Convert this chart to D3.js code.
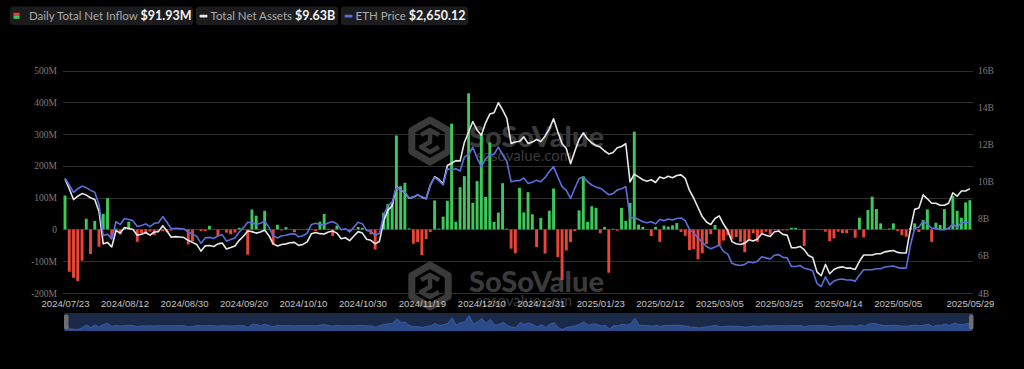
<!DOCTYPE html>
<html>
<head>
<meta charset="utf-8">
<script src="https://cdn.jsdelivr.net/npm/d3@7"></script>
<style>
  body { margin: 0; background: #000; }
  svg { display: block; }
</style>
</head>
<body>
<script>
// trading days shown on the category axis
const tradingDays = [
  ["2024/07", [23, 24, 25, 26, 29, 30, 31]],
  ["2024/08", [1, 2, 5, 6, 7, 8, 9, 12, 13, 14, 15, 16, 19, 20, 21, 22, 23, 26, 27, 28, 29, 30]],
  ["2024/09", [3, 4, 5, 6, 9, 10, 11, 12, 13, 16, 17, 18, 19, 20, 23, 24, 25, 26, 27, 30]],
  ["2024/10", [1, 2, 3, 4, 7, 8, 9, 10, 11, 14, 15, 16, 17, 18, 21, 22, 23, 24, 25, 28, 29, 30, 31]],
  ["2024/11", [1, 4, 5, 6, 7, 8, 11, 12, 13, 14, 15, 18, 19, 20, 21, 22, 25, 26, 27, 29]],
  ["2024/12", [2, 3, 4, 5, 6, 9, 10, 11, 12, 13, 16, 17, 18, 19, 20, 23, 24, 26, 27, 30, 31]],
  ["2025/01", [2, 3, 6, 7, 8, 10, 13, 14, 15, 16, 17, 21, 22, 23, 24, 27, 28, 29, 30, 31]],
  ["2025/02", [3, 4, 5, 6, 7, 10, 11, 12, 13, 14, 18, 19, 20, 21, 24, 25, 26, 27, 28]],
  ["2025/03", [3, 4, 5, 6, 7, 10, 11, 12, 13, 14, 17, 18, 19, 20, 21, 24, 25, 26, 27, 28, 31]],
  ["2025/04", [1, 2, 3, 4, 7, 8, 9, 10, 11, 14, 15, 16, 17, 21, 22, 23, 24, 25, 28, 29, 30]],
  ["2025/05", [1, 2, 5, 6, 7, 8, 9, 12, 13, 14, 15, 16, 19, 20, 21, 22, 23, 27, 28, 29]]
]
const dates = tradingDays.flatMap(([m, days]) => days.map(d => m + "/" + String(d).padStart(2, "0")))

const tickLabels = ["2024/07/23", "2024/08/12", "2024/08/30", "2024/09/20", "2024/10/10", "2024/10/30",
  "2024/11/19", "2024/12/10", "2024/12/31", "2025/01/23", "2025/02/12", "2025/03/05", "2025/03/25",
  "2025/04/14", "2025/05/05", "2025/05/29"]

// daily total net inflow, million USD
const netInflow = [
  106.6, -133.2, -152.3, -162.7, -98.3, 33.7, -77.2, 26.7, -54.3, 48.8,
  98.4, -23.7, 2.7, -15.7, 4.9, 24.3, 1, -39.2, -12, -13.5,
  -6.5, -18, -4, -5.8, -9, -3.5, 0.5, 2, -1.8, -47.4,
  -37.5, -1, -5.2, -5, 11.4, 0.5, -20.1, 1, -10, -15.1,
  -9.8, 5.2, -1, -79.3, 62.5, 43.2, 0.5, 58.7, 1, -48.6,
  14.5, -3.2, 7.4, 1, -8.2, 1, -1, 2, 1, -5,
  24.2, 48.4, 2, -20.8, 11.9, -1.1, -2, -8, -2, 7.6,
  4.9, -3, -16, -63.2, 0.5, 52.3, 79.7, 85.9, 295.5, 135.9,
  146.9, 3.2, -45, -40, -81.2, -30.3, -8, 91.2, 2.8, 40.3,
  90.1, 332.9, 24.2, 132.6, 167.7, 428.4, 83.8, 152, 300, 102.1,
  273.7, 23.7, 53, 145.5, 2.5, -60.5, -75.1, 130.8, 53.6, 117.2,
  47.8, -55.4, 35.9, -76, 58.9, 128.7, -86.8, -159.4, -66, -39.4,
  -5, 59.8, 166.9, 24, 73, 68, -12, 8, -136.2, 2,
  -4, 67.8, 27, 83.5, 307.8, 15, 8, 1, -21, 8,
  -39, 12, 9, 13, 20, -8, -20, -65, -62, -94,
  -75, -46, -15, 14, -50, -35, -18, -30, -24, -39,
  -72, -35, -12, -39, -12, -7, -16, -2, -4, -3,
  -3, 5, 5, 1, -52, 1, -1, 1, -2, -7,
  -37, -28, -7, -12, -12, -2, -26, 37, -25, 61,
  103, 64, 19, 1, 3, 19, -5, -18, -23, 5,
  19, -8, 30, 63, -39, 21, 14, 64, 5, 105,
  58.7, 37, 84.9, 91.93
]

// total net assets, billion USD
const totalNetAssets = [
  10.15, 9.62, 9.04, 9.22, 9.36, 9.28, 9.14, 9.04, 8.40, 6.65,
  6.73, 6.48, 7.37, 7.23, 7.53, 7.48, 7.42, 7.12, 7.17, 7.26,
  7.12, 7.29, 7.31, 7.63, 7.34, 7.01, 7.04, 7.02, 6.99, 6.84,
  6.73, 6.62, 6.26, 6.54, 6.56, 6.51, 6.65, 6.70, 6.37, 6.45,
  6.54, 6.84, 7.06, 7.34, 7.31, 7.23, 7.29, 7.40, 7.09, 6.65,
  6.54, 6.62, 6.65, 6.71, 6.73, 6.57, 6.62, 6.76, 7.20, 7.26,
  7.20, 7.18, 7.29, 7.34, 7.23, 6.93, 6.98, 6.82, 7.07, 7.31,
  7.23, 6.90, 6.84, 6.65, 6.78, 7.87, 8.47, 8.70, 9.74, 9.56,
  9.41, 9.11, 9.17, 9.29, 9.17, 9.08, 9.82, 10.27, 10.12, 9.89,
  10.88, 11.00, 11.14, 11.12, 12.12, 12.68, 13.25, 12.79, 12.51, 13.18,
  13.65, 13.72, 14.26, 13.88, 13.42, 12.07, 12.14, 12.18, 12.42, 12.06,
  12.14, 12.28, 12.17, 12.46, 12.85, 13.40, 12.70, 12.05, 11.79, 10.97,
  11.64, 12.28, 12.63, 12.31, 12.09, 11.95, 11.87, 11.66, 11.50, 11.58,
  11.83, 11.90, 12.05, 9.99, 10.41, 10.26, 10.11, 10.03, 10.11, 9.96,
  10.26, 10.18, 10.30, 10.22, 10.34, 10.37, 10.18, 9.53, 9.11, 8.61,
  8.12, 7.83, 7.69, 8.02, 8.16, 7.72, 7.37, 6.77, 6.66, 6.62,
  6.69, 6.87, 6.80, 6.91, 7.20, 7.12, 7.05, 7.30, 7.34, 7.16,
  7.12, 6.44, 6.44, 6.51, 6.34, 6.02, 5.92, 5.14, 4.93, 5.54,
  5.04, 5.27, 5.37, 5.41, 5.34, 5.34, 5.27, 5.71, 6.05, 6.05,
  6.05, 6.12, 6.12, 6.22, 6.26, 6.29, 6.19, 6.16, 6.16, 7.44,
  8.51, 8.58, 9.29, 9.08, 8.84, 8.84, 8.73, 8.73, 8.84, 9.40,
  9.22, 9.50, 9.50, 9.63
]

// ETH price, USD
const ethPrice = [
  3465, 3340, 3205, 3270, 3320, 3290, 3240, 3205, 2980, 2400,
  2430, 2340, 2660, 2610, 2720, 2700, 2680, 2570, 2590, 2620,
  2570, 2630, 2640, 2755, 2650, 2530, 2540, 2535, 2525, 2470,
  2430, 2390, 2260, 2360, 2370, 2350, 2400, 2420, 2300, 2330,
  2360, 2470, 2550, 2650, 2640, 2610, 2630, 2670, 2560, 2400,
  2360, 2400, 2410, 2430, 2440, 2380, 2400, 2450, 2610, 2630,
  2610, 2600, 2640, 2660, 2620, 2510, 2530, 2470, 2560, 2650,
  2620, 2500, 2480, 2410, 2440, 2780, 2960, 3020, 3300, 3250,
  3200, 3100, 3120, 3160, 3120, 3090, 3340, 3480, 3420, 3340,
  3640, 3620, 3640, 3600, 3860, 3900, 4040, 3840, 3680, 3820,
  3900, 3910, 4040, 3900, 3780, 3400, 3420, 3420, 3470, 3370,
  3390, 3430, 3400, 3480, 3590, 3680, 3490, 3310, 3240, 3090,
  3280, 3460, 3490, 3400, 3340, 3300, 3280, 3220, 3160, 3180,
  3250, 3270, 3310, 2730, 2740, 2700, 2660, 2640, 2660, 2620,
  2700, 2680, 2710, 2690, 2720, 2730, 2680, 2520, 2450, 2360,
  2280, 2200, 2160, 2190, 2230, 2110, 2060, 1890, 1860, 1850,
  1870, 1920, 1900, 1930, 2010, 1990, 1970, 2040, 2050, 2000,
  1990, 1830, 1830, 1850, 1800, 1780, 1750, 1520, 1460, 1640,
  1490, 1560, 1590, 1600, 1580, 1580, 1560, 1670, 1770, 1770,
  1770, 1790, 1790, 1820, 1830, 1840, 1810, 1800, 1800, 2220,
  2540, 2560, 2670, 2610, 2540, 2540, 2510, 2510, 2540, 2610,
  2560, 2640, 2640, 2650
]

const leftTicks = [-200, -100, 0, 100, 200, 300, 400, 500]
const rightTicks = [4, 6, 8, 10, 12, 14, 16]

const legendItems = [
  { label: "Daily Total Net Inflow", value: "$91.93M" },
  { label: "Total Net Assets", value: "$9.63B" },
  { label: "ETH Price", value: "$2,650.12" }
]

const width = 1024
const height = 369
const green = "#3ec85b"
const red = "#eb4537"
const white = "#e8e8e8"
const blue = "#5a6fdc"

const svg = d3.select("body").append("svg")
  .attr("width", width)
  .attr("height", height)
  .style("background", "#000")

const x = d3.scalePoint()
  .domain(dates)
  .range([62.9, 972])
  .padding(0.5)
const yLeft = d3.scaleLinear().domain([-200, 500]).range([293, 70.5])
const yRight = d3.scaleLinear().domain([4, 16]).range([293, 70.5])
// ETH price sits on a hidden axis
const yEth = d3.scaleLinear().domain([1340, 5460]).range([293, 70.5])

// grid
svg.append("g")
  .selectAll("line")
  .data(leftTicks)
  .enter()
  .append("line")
  .attr("x1", 63)
  .attr("x2", 973)
  .attr("y1", d => Math.round(yLeft(d)) + 0.5)
  .attr("y2", d => Math.round(yLeft(d)) + 0.5)
  .attr("stroke", "#2e2e2e")
  .attr("stroke-width", 1)

// watermarks
function watermark(cx, cy, textBase) {
  const g = svg.append("g").attr("fill", "#3a3a3a").attr("stroke", "#3a3a3a")
  const r = 21
  const hex = d3.range(6).map(k => {
    const a = Math.PI / 3 * k - Math.PI / 2
    return [cx + r * Math.cos(a), cy + r * Math.sin(a)]
  })
  g.append("path")
    .attr("d", d3.line()(hex) + "Z")
    .attr("fill", "none")
    .attr("stroke-width", 7)
    .attr("stroke-linejoin", "round")
  g.append("path")
    .attr("d", `M${cx - 9},${cy - 6} L${cx},${cy - 11} L${cx + 9},${cy - 6} M${cx},${cy - 11} L${cx},${cy + 1} L${cx - 9},${cy + 6} L${cx},${cy + 11} L${cx + 9},${cy + 6}`)
    .attr("fill", "none")
    .attr("stroke-width", 4.5)
    .attr("stroke-linejoin", "round")
  g.append("text")
    .attr("x", 469)
    .attr("y", textBase)
    .attr("stroke", "none")
    .style("font-family", "Lato, 'Open Sans', sans-serif")
    .style("font-weight", 900)
    .style("font-size", "29px")
    .text("SoSoValue")
  g.append("text")
    .attr("x", 476)
    .attr("y", textBase + 14)
    .attr("stroke", "none")
    .style("font-family", "Lato, 'Open Sans', sans-serif")
    .style("font-size", "15px")
    .text("sosovalue.com")
}
watermark(430, 141, 147)
watermark(430, 286, 292)

// bars
const barW = 2.9
svg.append("g")
  .selectAll("rect")
  .data(netInflow)
  .enter()
  .append("rect")
  .attr("x", (d, i) => x(dates[i]) - barW / 2)
  .attr("y", d => d >= 0 ? yLeft(d) : yLeft(0))
  .attr("width", barW)
  .attr("height", d => Math.abs(yLeft(d) - yLeft(0)))
  .attr("fill", d => d >= 0 ? green : red)

// lines
const assetsLine = d3.line()
  .x((d, i) => x(dates[i]))
  .y(d => yRight(d))
svg.append("path")
  .datum(totalNetAssets)
  .attr("d", assetsLine)
  .attr("fill", "none")
  .attr("stroke", white)
  .attr("stroke-width", 1.6)
  .attr("stroke-linejoin", "round")

const priceLine = d3.line()
  .x((d, i) => x(dates[i]))
  .y(d => yEth(d))
svg.append("path")
  .datum(ethPrice)
  .attr("d", priceLine)
  .attr("fill", "none")
  .attr("stroke", blue)
  .attr("stroke-width", 1.6)
  .attr("stroke-linejoin", "round")

// axes
const leftAxis = svg.append("g")
  .attr("transform", "translate(63,0)")
  .call(d3.axisLeft(yLeft).tickValues(leftTicks).tickSize(0).tickPadding(6)
    .tickFormat(d => d === 0 ? "0" : d + "M"))
const rightAxis = svg.append("g")
  .attr("transform", "translate(973,0)")
  .call(d3.axisRight(yRight).tickValues(rightTicks).tickSize(0).tickPadding(5)
    .tickFormat(d => d + "B"))
;[leftAxis, rightAxis].forEach(a => {
  a.select(".domain").remove()
  a.selectAll("text")
    .attr("fill", "#7c7c7c")
    .style("font-family", "'Liberation Serif', 'DejaVu Serif', serif")
    .style("font-size", "9.5px")
})

const xAxis = svg.append("g")
  .attr("transform", "translate(0,293)")
  .call(d3.axisBottom(x).tickValues(tickLabels).tickSize(0).tickPadding(7))
xAxis.select(".domain").remove()
xAxis.selectAll("text")
  .attr("fill", "#c4c4c4")
  .style("font-family", "'Liberation Sans', Arial, sans-serif")
  .style("font-size", "9.6px")

// data zoom slider
const sx = d3.scaleLinear().domain([0, dates.length - 1]).range([65, 971])
const sy = d3.scaleLinear().domain(d3.extent(netInflow)).range([329.5, 315.5])
svg.append("rect")
  .attr("x", 64)
  .attr("y", 313)
  .attr("width", 909)
  .attr("height", 18)
  .attr("fill", "#1b2948")
svg.append("path")
  .datum(netInflow)
  .attr("d", d3.area().x((d, i) => sx(i)).y0(331).y1(d => sy(d)))
  .attr("fill", "#2b4a88")
svg.append("path")
  .datum(netInflow)
  .attr("d", d3.line().x((d, i) => sx(i)).y(d => sy(d)))
  .attr("fill", "none")
  .attr("stroke", "#3d62aa")
  .attr("stroke-width", 0.8)
svg.append("g")
  .selectAll("rect")
  .data([64, 969])
  .enter()
  .append("rect")
  .attr("x", d => d)
  .attr("y", 314.5)
  .attr("width", 4.5)
  .attr("height", 15)
  .attr("rx", 2)
  .attr("fill", "#6e6e6e")

// legend
const legendBoxes = [
  { x: 10, w: 183 },
  { x: 196, w: 142 },
  { x: 341, w: 127 }
]
const legend = svg.append("g")
  .selectAll("g")
  .data(legendItems)
  .enter()
  .append("g")
  .attr("transform", (d, i) => `translate(${legendBoxes[i].x},6.5)`)
legend.append("rect")
  .attr("width", (d, i) => legendBoxes[i].w)
  .attr("height", 18.5)
  .attr("rx", 3)
  .attr("fill", "#1c1c1e")
legend.each(function (d, i) {
  const g = d3.select(this)
  if (i === 0) {
    g.append("rect").attr("x", 3.5).attr("y", 6.3).attr("width", 6).attr("height", 3).attr("fill", red)
    g.append("rect").attr("x", 3.5).attr("y", 9.3).attr("width", 6).attr("height", 3).attr("fill", green)
  } else {
    g.append("rect").attr("x", 3.5).attr("y", 8.3).attr("width", 8).attr("height", 2.6).attr("rx", 1)
      .attr("fill", i === 1 ? white : blue)
  }
  const t = g.append("text")
    .attr("x", i === 0 ? 19 : 14.5)
    .attr("y", 13.5)
    .style("font-family", "Lato, 'Open Sans', sans-serif")
  t.append("tspan")
    .attr("fill", "#a9a9a9")
    .style("font-size", "11.5px")
    .text(d.label + " ")
  t.append("tspan")
    .attr("fill", "#f2f2f2")
    .style("font-size", "12.5px")
    .style("font-weight", 700)
    .text(d.value)
})
</script>
</body>
</html>
